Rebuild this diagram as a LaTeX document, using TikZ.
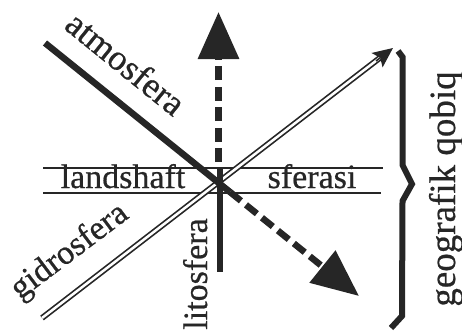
\documentclass[tikz,border=0pt]{standalone}
\usepackage{fontspec}
\setmainfont{Liberation Serif}
\newfontfamily\lblfont[BoldFont={Liberation Serif},BoldFeatures={FakeBold=0.6}]{Liberation Serif}
\usetikzlibrary{arrows.meta}
\begin{document}
\begin{tikzpicture}[x=1pt,y=-1pt,
  thinline/.style={line width=1.6pt, color=black!85},
  thickline/.style={line width=6.5pt, color=black!85},
  dashline/.style={line width=6.5pt, color=black!85, dash pattern=on 14pt off 6.5pt},
  dblline/.style={line width=1.7pt, color=black!85, double=white, double distance=2.5pt},
  bighead/.style={-{Triangle[length=47pt,width=40pt]}},
  smallhead/.style={line width=1.5pt, color=black!85, -{Stealth[length=20pt,width=18pt,inset=4pt]}},
  bracestyle/.style={line width=6pt, color=black!85, line join=miter},
  lbl/.style={inner sep=0pt, text=black!85, font=\lblfont\bfseries\fontsize{34}{34}\selectfont},
]
\useasboundingbox (0,0) rectangle (462,333);
% coordinates
\coordinate (hl1) at (43,168);
\coordinate (hr1) at (383,168);
\coordinate (hl2) at (43,193);
\coordinate (hr2) at (381,193);
\coordinate (aS) at (45,43);
\coordinate (aE) at (230,192);
\coordinate (aTip) at (359,296);
\coordinate (vB) at (218.5,162);
\coordinate (vTip) at (218.5,12);
\coordinate (lT) at (220,168);
\coordinate (lB) at (220,272);
\coordinate (gS) at (42,318);
\coordinate (gE) at (381,57);
\coordinate (gA) at (376,61);
\coordinate (gTip) at (393,48);
\coordinate (b1) at (398,51);
\coordinate (b2) at (402.5,57);
\coordinate (b3) at (402.5,165);
\coordinate (b4) at (412,184);
\coordinate (b5) at (402.5,201);
\coordinate (b6) at (402,316);
\coordinate (b7) at (391,328);
% horizontal band
\draw[thinline] (hl1) -- (hr1);
\draw[thinline] (hl2) -- (hr2);
% gidrosfera double line
\draw[dblline] (gS) -- (gE);
\draw[smallhead] (gA) -- (gTip);
% atmosfera line
\draw[thickline] (aS) -- (aE);
\draw[dashline, bighead] (aE) -- (aTip);
% vertical dashed arrow
\draw[dashline, bighead] (vB) -- (vTip);
% litosfera line
\draw[line width=6pt, color=black!85] (lT) -- (lB);
% brace
\draw[bracestyle] (b1) -- (b2) -- (b3) -- (b4) -- (b5) -- (b6) -- (b7);
% labels
\node[lbl, anchor=base] (landshaft) at (123,188) {landshaft};
\node[lbl, anchor=base] (sferasi) at (312,188) {sferasi};
\node[lbl, rotate=-39, font=\lblfont\bfseries\fontsize{36}{36}\selectfont] (atmos) at (126,63) {atmosfera};
\node[lbl, rotate=37] (gidro) at (70,252) {gidrosfera};
\node[lbl, rotate=90, anchor=base] (lito) at (207,274) {litosfera};
\node[lbl, rotate=90, anchor=base, font=\lblfont\bfseries\fontsize{37}{37}\selectfont] (geo) at (455,189) {geografik qobiq};
\end{tikzpicture}
\end{document}
